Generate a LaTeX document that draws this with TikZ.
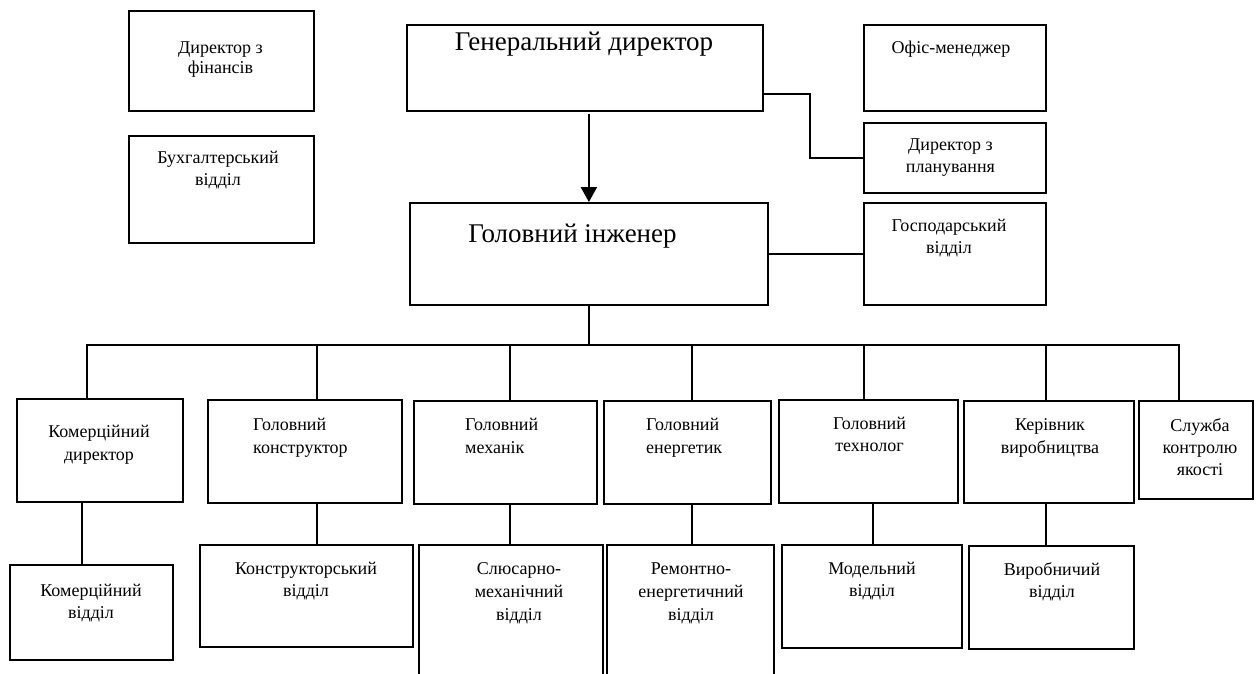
\documentclass[tikz,border=0pt]{standalone}
\usepackage{fontspec}
\setmainfont{Liberation Serif}
\usetikzlibrary{arrows.meta}
\begin{document}
\begin{tikzpicture}[x=1pt,y=-1pt,%
% common options for the boxes:
box/.style = {draw, line width=1.8pt, rectangle, anchor=north west, inner sep=0},
% common options for the texts:
txt/.style = {align=center, anchor=base, inner sep=0, font=\fontsize{18}{22}\selectfont},
ltxt/.style = {txt, align=left, anchor=base west},
big/.style = {anchor=base, inner sep=0, font=\fontsize{27}{32}\selectfont},
% common options for the lines:
link/.style = {line width=1.8pt}]
\clip (0,0) rectangle (1256,673);
% top part
\node[box, minimum width=185, minimum height=100] (fin) at (128,10) {};
\node[box, minimum width=185, minimum height=107] (buh) at (128,135) {};
\node[box, minimum width=356, minimum height=86] (gen) at (406,24) {};
\node[box, minimum width=358, minimum height=102] (eng) at (409,202) {};
\node[box, minimum width=182, minimum height=86] (of) at (863,24) {};
\node[box, minimum width=182, minimum height=70] (plan) at (863,122) {};
\node[box, minimum width=182, minimum height=102] (gosp) at (863,202) {};
\node[txt, font=\fontsize{18}{20}\selectfont] (finT) at (220.5,73) {Директор з\\фінансів};
\node[txt] (buhT) at (218,185) {Бухгалтерський\\відділ};
\node[big] (genT) at (584,50) {Генеральний директор};
\node[big] (engT) at (572.5,242) {Головний інженер};
\node[txt] (ofT) at (951,53) {Офіс-менеджер};
\node[txt] (planT) at (950.5,172) {Директор з\\планування};
\node[txt] (gospT) at (949,253) {Господарський\\відділ};
% first row
\node[box, minimum width=166, minimum height=103] (kd) at (16,398) {};
\node[box, minimum width=194, minimum height=103] (gk) at (207,399) {};
\node[box, minimum width=183, minimum height=103] (gm) at (413,400) {};
\node[box, minimum width=167, minimum height=103] (ge) at (603,400) {};
\node[box, minimum width=179, minimum height=103] (gt) at (778,399) {};
\node[box, minimum width=170, minimum height=102] (kv) at (963,400) {};
\node[box, minimum width=114, minimum height=98] (skj) at (1138,400) {};
\node[txt, font=\fontsize{18}{23}\selectfont] (kdT) at (99,460) {Комерційний\\директор};
\node[ltxt, font=\fontsize{18}{23}\selectfont] (gkT) at (253,453) {Головний\\конструктор};
\node[ltxt, font=\fontsize{18}{23}\selectfont] (gmT) at (465,453) {Головний\\механік};
\node[ltxt, font=\fontsize{18}{23}\selectfont] (geT) at (646,453) {Головний\\енергетик};
\node[txt] (gtT) at (869.5,451) {Головний\\технолог};
\node[txt, font=\fontsize{18}{23}\selectfont] (kvT) at (1050,453) {Керівник\\виробництва};
\node[txt] (skjT) at (1200,475) {Служба\\контролю\\якості};
% second row
\node[box, minimum width=163, minimum height=95] (kvid) at (9,564) {};
\node[box, minimum width=213, minimum height=102] (kons) at (199,544) {};
\node[box, minimum width=184, minimum height=140] (slm) at (418,544) {};
\node[box, minimum width=167, minimum height=140] (rem) at (606,544) {};
\node[box, minimum width=180, minimum height=103] (mod) at (781,544) {};
\node[box, minimum width=165, minimum height=103] (vyr) at (968,545) {};
\node[txt] (kvidT) at (91,618) {Комерційний\\відділ};
\node[txt] (konsT) at (306,596) {Конструкторський\\відділ};
\node[txt, font=\fontsize{18}{23}\selectfont] (slmT) at (519,620) {Слюсарно-\\механічний\\відділ};
\node[txt, font=\fontsize{18}{23}\selectfont] (remT) at (691,620) {Ремонтно-\\енергетичний\\відділ};
\node[txt] (modT) at (872,596) {Модельний\\відділ};
\node[txt] (vyrT) at (1052,597) {Виробничий\\відділ};
% connectors
\draw[link, line width=2.2pt, -{Triangle[length=15pt,width=16pt]}] ([yshift=-2pt]eng.north |- gen.south) -- (eng.north);
\draw[link] ([yshift=-26pt]gen.east) -| ([xshift=-53pt]plan.west) -- (plan.west);
\draw[link] (eng.east) -- (gosp.west);
\draw[link] (eng.south) -- ++(0,39) coordinate (bus);
\foreach \n/\dx in {kd/-13,gk/12,gm/4.5,ge/4.5,gt/-4.5,kv/-3,skj/-17}
  \draw[link] ([xshift=\dx pt]\n.north) |- (bus);
\foreach \a/\b/\dx in {kd/kvid/-18,gk/kons/12,gm/slm/4.5,ge/rem/4.5,gt/mod/4.5,kv/vyr/-3}
  \draw[link] ([xshift=\dx pt]\a.south) coordinate (top) -- (top |- \b.north);
\end{tikzpicture}
\end{document}
